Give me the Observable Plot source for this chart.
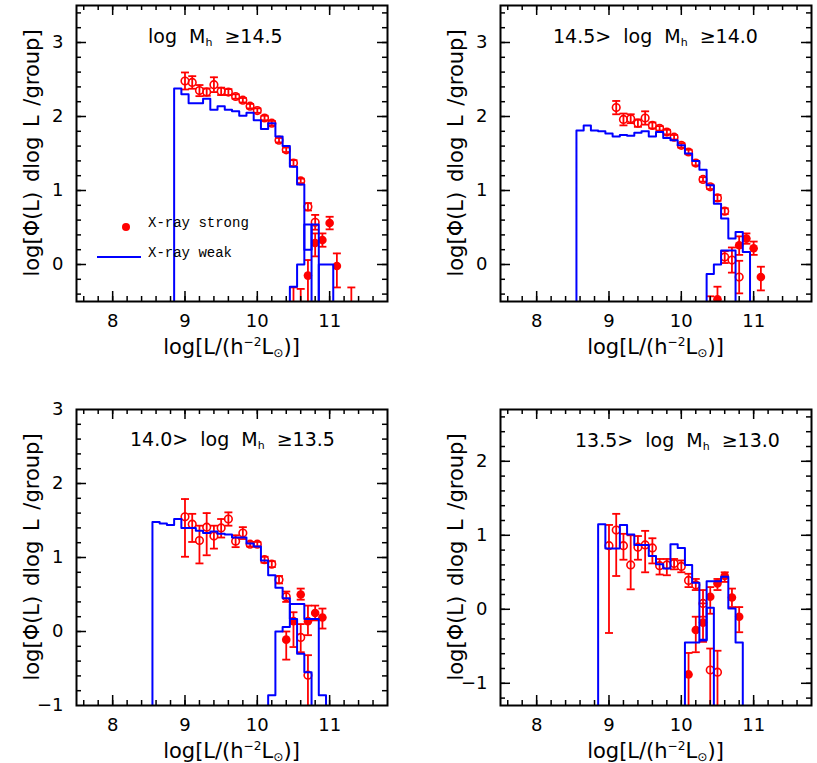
<!DOCTYPE html>
<html>
<head>
<meta charset="utf-8">
<script src="https://cdn.jsdelivr.net/npm/d3@7"></script>
<script src="https://cdn.jsdelivr.net/npm/@observablehq/plot@0.6"></script>
<style>
  html, body { margin: 0; padding: 0; background: #fff; overflow: hidden; }
  #wrap { position: relative; width: 817px; height: 763px; color: #000; font-family: "DejaVu Sans", "Liberation Sans", sans-serif; }
  .panel { position: absolute; }
  .lbl { position: absolute; white-space: nowrap; line-height: 1; }
  .xt { font-size: 21px; transform: translate(-50%, -50%); }
  .yt { font-size: 21px; transform: translate(-50%, -50%) rotate(-90deg); word-spacing: 3px; }
  .pt { font-size: 19px; transform: translateY(-50%); word-spacing: 6px; }
  sup { font-size: 0.58em; vertical-align: 0.62em; line-height: 0; }
  sub { font-size: 0.58em; vertical-align: -0.3em; line-height: 0; }
  .leg { font-family: "Liberation Mono", "DejaVu Sans Mono", monospace; font-size: 14px; transform: translateY(-50%); }
</style>
</head>
<body>
<div id="wrap"></div>
<script>
// ---------- shared axis data ----------
const xDomain = [7.5, 11.8];
const xTickLabels = [8, 9, 10, 11];
const binWidth = 0.1;
const xTitle = "log[L/(h<sup>−2</sup>L<sub>⊙</sub>)]";
const yTitle = "log[Φ(L) dlog L /group]";
const legendLabels = ["X-ray strong", "X-ray weak"];
const panelTitles = [
  "log M<sub>h</sub> ≥14.5",
  "14.5&gt; log M<sub>h</sub> ≥14.0",
  "14.0&gt; log M<sub>h</sub> ≥13.5",
  "13.5&gt; log M<sub>h</sub> ≥13.0"
];

// ---------- panel 1 : log Mh >= 14.5 ----------
const p1YDomain = [-0.5, 3.5];
const p1YTicks = [0, 1, 2, 3];
const p1WeakStart = 8.85;
const p1Weak = [2.38, 2.30, 2.18, 2.18, 2.24, 2.09, 2.14, 2.09, 2.07, 2.01, 2.05, 1.95, 1.83, 1.91, 1.73, 1.60, 1.32, 1.08, 0.20, 0.54];
const p1StrongStart = 10.45;
const p1Strong = [-0.30, 0.00, 0.54, null, 0.00, 0.00];
const p1OpenX  = [9.0, 9.1, 9.2, 9.3, 9.4, 9.5, 9.6, 9.7, 9.8, 9.9, 10.0, 10.1, 10.2, 10.3, 10.4, 10.5, 10.6, 10.7, 10.8];
const p1OpenY  = [2.48, 2.46, 2.35, 2.33, 2.43, 2.34, 2.33, 2.27, 2.22, 2.14, 2.08, 1.98, 1.91, 1.68, 1.55, 1.37, 1.13, 0.78, 0.57];
const p1OpenLo = [2.365, 2.375, 2.275, 2.28, 2.33, 2.29, 2.29, 2.24, 2.19, 2.11, 2.05, 1.95, 1.88, 1.65, 1.52, 1.33, 1.10, 0.73, 0.47];
const p1OpenHi = [2.595, 2.545, 2.425, 2.38, 2.53, 2.39, 2.37, 2.30, 2.25, 2.17, 2.11, 2.01, 1.94, 1.71, 1.58, 1.41, 1.16, 0.83, 0.67];
const p1FillX  = [10.5, 10.6, 10.7, 10.8, 10.9, 11.0, 11.1, 11.3];
const p1FillY  = [-0.75, -0.75, -0.15, 0.29, 0.33, 0.56, -0.02, -0.75];
const p1FillLo = [-0.95, -0.95, -0.60, 0.11, 0.24, 0.475, -0.31, -0.95];
const p1FillHi = [-0.31, -0.33, 0.06, 0.42, 0.42, 0.645, 0.15, -0.31];

// ---------- panel 2 : 14.5 > log Mh >= 14.0 ----------
const p2YDomain = [-0.5, 3.5];
const p2YTicks = [0, 1, 2, 3];
const p2WeakStart = 8.55;
const p2Weak = [1.81, 1.88, 1.81, 1.80, 1.77, 1.73, 1.75, 1.74, 1.78, 1.80, 1.73, 1.79, 1.71, 1.68, 1.61, 1.50, 1.40, 1.28, 1.07, 0.82, 0.62, 0.35, 0.44, 0.17];
const p2StrongStart = 10.35;
const p2Strong = [-0.13, 0.00, 0.19, 0.19];
const p2OpenX  = [9.1, 9.2, 9.3, 9.4, 9.5, 9.6, 9.7, 9.8, 9.9, 10.0, 10.1, 10.2, 10.3, 10.4, 10.5, 10.6, 10.6, 10.7, 10.8];
const p2OpenY  = [2.12, 1.96, 1.97, 1.91, 1.98, 1.88, 1.84, 1.79, 1.72, 1.61, 1.52, 1.37, 1.15, 1.05, 0.90, 0.72, 0.10, 0.06, -0.17];
const p2OpenLo = [2.03, 1.88, 1.91, 1.86, 1.89, 1.84, 1.81, 1.76, 1.69, 1.58, 1.49, 1.34, 1.12, 1.02, 0.86, 0.68, 0.02, -0.11, -0.39];
const p2OpenHi = [2.21, 2.04, 2.03, 1.96, 2.07, 1.92, 1.87, 1.82, 1.75, 1.64, 1.55, 1.40, 1.18, 1.08, 0.94, 0.76, 0.18, 0.23, 0.05];
const p2FillX  = [10.4, 10.5, 10.8, 10.9, 11.0, 11.1];
const p2FillY  = [-0.75, -0.47, 0.26, 0.35, 0.22, -0.17];
const p2FillLo = [-0.95, -0.70, 0.13, 0.28, 0.13, -0.35];
const p2FillHi = [-0.43, -0.30, 0.38, 0.42, 0.31, -0.03];

// ---------- panel 3 : 14.0 > log Mh >= 13.5 ----------
const p3YDomain = [-1, 3];
const p3YTicks = [-1, 0, 1, 2, 3];
const p3WeakStart = 8.55;
const p3Weak = [1.48, 1.46, 1.44, 1.52, 1.40, 1.40, 1.36, 1.33, 1.35, 1.32, 1.31, 1.27, 1.27, 1.19, 1.15, 0.96, 0.76, 0.59, 0.45, 0.17, -0.30, -0.55];
const p3StrongStart = 10.15;
const p3Strong = [-0.86, 0.00, 0.06, 0.37, 0.37, 0.17, 0.17, -0.86];
const p3OpenX  = [9.0, 9.1, 9.2, 9.3, 9.4, 9.5, 9.6, 9.7, 9.8, 9.9, 10.0, 10.1, 10.2, 10.3, 10.4, 10.6, 10.7];
const p3OpenY  = [1.55, 1.45, 1.23, 1.41, 1.29, 1.40, 1.52, 1.22, 1.33, 1.18, 1.18, 0.97, 0.91, 0.70, 0.47, -0.08, -0.59];
const p3OpenLo = [1.01, 1.21, 0.92, 1.03, 1.12, 1.27, 1.43, 1.14, 1.25, 1.15, 1.15, 0.93, 0.87, 0.65, 0.40, -0.28, -1.10];
const p3OpenHi = [1.79, 1.59, 1.43, 1.60, 1.43, 1.52, 1.61, 1.30, 1.41, 1.21, 1.21, 1.01, 0.95, 0.75, 0.54, 0.10, -0.32];
const p3FillX  = [10.4, 10.5, 10.6, 10.7, 10.8, 10.9];
const p3FillY  = [-0.11, 0.14, 0.50, 0.14, 0.25, 0.19];
const p3FillLo = [-0.38, -0.21, 0.43, -0.05, 0.15, 0.04];
const p3FillHi = [0.00, 0.26, 0.58, 0.35, 0.35, 0.31];

// ---------- panel 4 : 13.5 > log Mh >= 13.0 ----------
const p4YDomain = [-1.3, 2.7];
const p4YTicks = [-1, 0, 1, 2];
const p4WeakStart = 8.85;
const p4Weak = [1.15, 0.82, 0.82, 1.14, 1.01, 0.87, 0.87, 0.72, 0.61, 0.55, 0.88, 0.83, 0.60, 0.36, -0.41, 0.02];
const p4StrongStart = 10.05;
const p4Strong = [-0.45, -0.45, -0.42, 0.38, 0.38, 0.44, 0.01, -0.45];
const p4OpenX  = [9.0, 9.1, 9.2, 9.3, 9.4, 9.5, 9.6, 9.7, 9.8, 9.9, 10.0, 10.1, 10.2, 10.3, 10.4, 10.5];
const p4OpenY  = [0.86, 1.07, 0.86, 0.60, 0.84, 0.87, 0.83, 0.59, 0.60, 0.62, 0.58, 0.39, 0.33, 0.08, -0.82, -0.85];
const p4OpenLo = [-0.32, 0.45, 0.67, 0.27, 0.67, 0.50, 0.62, 0.47, 0.46, 0.54, 0.50, 0.30, 0.26, -0.10, -1.60, -1.60];
const p4OpenHi = [1.14, 1.29, 1.02, 1.00, 0.99, 1.06, 0.96, 0.68, 0.68, 0.68, 0.66, 0.48, 0.41, 0.26, -0.53, -0.56];
const p4FillX  = [10.1, 10.2, 10.3, 10.4, 10.5, 10.6, 10.7, 10.8];
const p4FillY  = [-0.88, -0.28, -0.18, 0.17, 0.35, 0.45, 0.16, -0.10];
const p4FillLo = [-1.60, -0.58, -0.44, -0.06, 0.26, 0.37, 0.03, -0.31];
const p4FillHi = [-0.59, -0.10, 0.08, 0.30, 0.41, 0.50, 0.28, 0.03];

// ---------- layout ----------
const FW = 311, FH = 296, ML = 76;
const panels = [
  {left: 0,   top: 0,   mt: 5,  width: 408, height: 370, yDomain: p1YDomain, yTicks: p1YTicks,
   weakStart: p1WeakStart, weak: p1Weak, strongStart: p1StrongStart, strong: p1Strong,
   open: [p1OpenX, p1OpenY, p1OpenLo, p1OpenHi], fill: [p1FillX, p1FillY, p1FillLo, p1FillHi],
   title: panelTitles[0], titleX: 148, titleY: 36},
  {left: 424, top: 0,   mt: 5,  width: 393, height: 370, yDomain: p2YDomain, yTicks: p2YTicks,
   weakStart: p2WeakStart, weak: p2Weak, strongStart: p2StrongStart, strong: p2Strong,
   open: [p2OpenX, p2OpenY, p2OpenLo, p2OpenHi], fill: [p2FillX, p2FillY, p2FillLo, p2FillHi],
   title: panelTitles[1], titleX: 553, titleY: 36},
  {left: 0,   top: 388, mt: 21, width: 408, height: 375, yDomain: p3YDomain, yTicks: p3YTicks,
   weakStart: p3WeakStart, weak: p3Weak, strongStart: p3StrongStart, strong: p3Strong,
   open: [p3OpenX, p3OpenY, p3OpenLo, p3OpenHi], fill: [p3FillX, p3FillY, p3FillLo, p3FillHi],
   title: panelTitles[2], titleX: 130, titleY: 439},
  {left: 424, top: 388, mt: 21, width: 393, height: 375, yDomain: p4YDomain, yTicks: p4YTicks,
   weakStart: p4WeakStart, weak: p4Weak, strongStart: p4StrongStart, strong: p4Strong,
   open: [p4OpenX, p4OpenY, p4OpenLo, p4OpenHi], fill: [p4FillX, p4FillY, p4FillLo, p4FillHi],
   title: panelTitles[3], titleX: 575, titleY: 440}
];

const RED = "#ff0000", BLUE = "#0000ff";
const capSymbol = {draw(ctx, size) { const w = Math.sqrt(size / Math.PI); ctx.moveTo(-w, 0); ctx.lineTo(w, 0); }};
const intFormat = d3.format("d");

function histPoints(start, vals, floor) {
  const pts = [{x: start, y: floor}];
  vals.forEach((v, i) => {
    const y = v == null ? floor : v;
    pts.push({x: start + i * binWidth, y}, {x: start + (i + 1) * binWidth, y});
  });
  pts.push({x: start + vals.length * binWidth, y: floor});
  return pts;
}
function rows([xs, ys, lo, hi]) {
  return xs.map((x, i) => ({x, y: ys[i], lo: lo[i], hi: hi[i]}));
}

const wrap = document.getElementById("wrap");

panels.forEach((p) => {
  const [y0, y1] = p.yDomain;
  const floor = y0 - 2;
  const MT = p.mt;
  const openRows = rows(p.open), fillRows = rows(p.fill);
  const allRows = openRows.concat(fillRows);
  const xMinor = d3.range(Math.ceil(xDomain[0] * 5), Math.floor(xDomain[1] * 5) + 1).map(d => d / 5).filter(d => d > xDomain[0] && d < xDomain[1]);
  const xMajor = d3.range(Math.ceil(xDomain[0]), Math.floor(xDomain[1]) + 1);
  const yMinor = d3.range(Math.ceil(y0 * 5), Math.floor(y1 * 5) + 1).map(d => d / 5).filter(d => d > y0 && d < y1);
  const yMajor = d3.range(Math.ceil(y0), Math.floor(y1) + 1).filter(d => d > y0 && d < y1);
  const tk = {stroke: "black", strokeWidth: 1.5};

  const svg = Plot.plot({
    width: p.width, height: p.height,
    marginLeft: ML, marginTop: MT,
    marginRight: p.width - ML - FW, marginBottom: p.height - MT - FH,
    x: {domain: xDomain, ticks: xTickLabels, tickFormat: intFormat, tickSize: 0, tickPadding: 13, label: null},
    y: {domain: p.yDomain, ticks: p.yTicks, tickFormat: intFormat, tickSize: 0, tickPadding: 13, label: null},
    style: {fontFamily: "DejaVu Sans, Liberation Sans, sans-serif", fontSize: "18px", background: "white", color: "black"},
    marks: [
      Plot.ruleX(allRows, {x: "x", y1: "lo", y2: "hi", stroke: RED, strokeWidth: 1.8, clip: true}),
      Plot.dot(allRows, {x: "x", y: "lo", symbol: capSymbol, r: 4, stroke: RED, fill: "none", strokeWidth: 1.8, clip: true}),
      Plot.dot(allRows, {x: "x", y: "hi", symbol: capSymbol, r: 4, stroke: RED, fill: "none", strokeWidth: 1.8, clip: true}),
      Plot.dot(openRows, {x: "x", y: "y", r: 3.8, stroke: RED, fill: "none", strokeWidth: 1.6, clip: true}),
      Plot.dot(fillRows, {x: "x", y: "y", r: 4.3, fill: RED, stroke: "none", clip: true}),
      Plot.line(histPoints(p.weakStart, p.weak, floor), {x: "x", y: "y", stroke: BLUE, strokeWidth: 2, clip: true}),
      Plot.line(histPoints(p.strongStart, p.strong, floor), {x: "x", y: "y", stroke: BLUE, strokeWidth: 2, clip: true}),
      Plot.tickX(xMinor, {x: d => d, insetTop: FH - 5, ...tk}),
      Plot.tickX(xMinor, {x: d => d, insetBottom: FH - 5, ...tk}),
      Plot.tickX(xMajor, {x: d => d, insetTop: FH - 10, ...tk}),
      Plot.tickX(xMajor, {x: d => d, insetBottom: FH - 10, ...tk}),
      Plot.tickY(yMinor, {y: d => d, insetRight: FW - 5, ...tk}),
      Plot.tickY(yMinor, {y: d => d, insetLeft: FW - 5, ...tk}),
      Plot.tickY(yMajor, {y: d => d, insetRight: FW - 10, ...tk}),
      Plot.tickY(yMajor, {y: d => d, insetLeft: FW - 10, ...tk}),
      Plot.frame({stroke: "black", strokeWidth: 2})
    ]
  });
  svg.classList.add("panel");
  svg.style.left = p.left + "px";
  svg.style.top = p.top + "px";
  wrap.appendChild(svg);

  const fx = p.left + ML, fy = p.top + MT;
  const xt = document.createElement("div");
  xt.className = "lbl xt";
  xt.innerHTML = xTitle;
  xt.style.left = (fx + FW / 2) + "px";
  xt.style.top = (fy + FH + 46) + "px";
  wrap.appendChild(xt);

  const yt = document.createElement("div");
  yt.className = "lbl yt";
  yt.textContent = yTitle;
  yt.style.left = (fx - 44) + "px";
  yt.style.top = (fy + FH / 2) + "px";
  wrap.appendChild(yt);

  const pt = document.createElement("div");
  pt.className = "lbl pt";
  pt.innerHTML = p.title;
  pt.style.left = p.titleX + "px";
  pt.style.top = p.titleY + "px";
  wrap.appendChild(pt);
});

// legend (panel 1)
const legDot = document.createElement("div");
legDot.style.cssText = "position:absolute;left:122px;top:223px;width:8px;height:8px;border-radius:50%;background:" + RED + ";";
wrap.appendChild(legDot);
const legLine = document.createElement("div");
legLine.style.cssText = "position:absolute;left:97px;top:256px;width:44px;height:2px;background:" + BLUE + ";";
wrap.appendChild(legLine);
legendLabels.forEach((t, i) => {
  const d = document.createElement("div");
  d.className = "lbl leg";
  d.textContent = t;
  d.style.left = "148px";
  d.style.top = (i === 0 ? 223 : 253) + "px";
  wrap.appendChild(d);
});
</script>
</body>
</html>
